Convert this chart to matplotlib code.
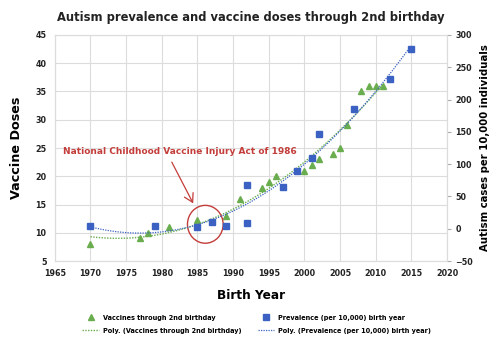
import numpy as np
import matplotlib
matplotlib.use("Agg")
import matplotlib.pyplot as plt
from matplotlib.patches import Ellipse

# Doses of vaccine received through 2nd birthday, by birth year
vacc_years = [1970, 1977, 1978, 1981, 1985, 1989, 1991, 1994, 1995, 1996,
              2000, 2001, 2002, 2004, 2005, 2006, 2008, 2009, 2010, 2011]
vacc_doses = [8, 9, 10, 11, 12.3, 13, 16, 18, 19, 20,
              21, 22, 23, 24, 25, 29, 35, 36, 36, 36]

# Autism prevalence per 10,000 by birth year
prev_years = [1970, 1979, 1985, 1987, 1989, 1992, 1992, 1997, 1999, 2001,
              2002, 2007, 2012, 2015]
prev_rate = [4, 4, 3, 11, 5, 9, 68, 65, 90, 110,
             146, 185, 232, 278]

x_ticks = list(range(1965, 2021, 5))
left_ticks = list(range(5, 46, 5))
right_ticks = list(range(-50, 301, 50))

GREEN = "#6aad4e"
BLUE = "#3b62c2"
RED = "#c33d3a"
GRID = "#dcdcdc"

plt.rcParams["font.family"] = ["DejaVu Sans"]

fig = plt.figure(figsize=(4.94, 3.43), dpi=100)
ax = fig.add_axes([0.111, 0.239, 0.794, 0.659])
ax2 = ax.twinx()

ax.set_xlim(1965, 2020)
ax.set_ylim(5, 45)
ax2.set_ylim(-50, 300)
ax.set_xticks(x_ticks)
ax.set_yticks(left_ticks)
ax2.set_yticks(right_ticks)
ax.grid(True, color=GRID, linewidth=0.8)
ax.set_axisbelow(True)

for a in (ax, ax2):
    for s in a.spines.values():
        s.set_color(GRID)
        s.set_linewidth(0.8)
    a.tick_params(labelsize=5.8, colors="#222222", length=0, pad=6)
    for lab in a.get_xticklabels() + a.get_yticklabels():
        lab.set_fontweight("bold")
ax2.tick_params(axis="y", length=3, color="#aaaaaa", pad=3)
for lab in ax2.get_yticklabels():
    lab.set_fontweight("bold")

# second-order polynomial trendlines
vx = np.array(vacc_years, dtype=float)
px = np.array(prev_years, dtype=float)
vfit = np.poly1d(np.polyfit(vx, vacc_doses, 2))
pfit = np.poly1d(np.polyfit(px, prev_rate, 2))
vxs = np.linspace(vx.min(), vx.max(), 200)
pxs = np.linspace(px.min(), px.max(), 200)

l_vfit, = ax.plot(vxs, vfit(vxs), color=GREEN, linestyle=(0, (1, 1)),
                  linewidth=1.0, label="Poly. (Vaccines through 2nd birthday)")
l_pfit, = ax2.plot(pxs, pfit(pxs), color=BLUE, linestyle=(0, (1, 1)),
                   linewidth=0.9, label="Poly. (Prevalence (per 10,000) birth year)")
l_v, = ax.plot(vacc_years, vacc_doses, "^", color=GREEN, markersize=5,
               linestyle="none", label="Vaccines through 2nd birthday")
l_p, = ax2.plot(prev_years, prev_rate, "s", color=BLUE, markersize=4.6,
                linestyle="none", label="Prevalence (per 10,000) birth year")

ax.set_title("Autism prevalence and vaccine doses through 2nd birthday",
             fontsize=8.3, fontweight="bold", color="#222222", pad=10)
ax.set_ylabel("Vaccine Doses", fontsize=9.2, fontweight="bold", labelpad=9)
ax2.set_ylabel("Autism cases per 10,000 individuals", fontsize=7.3,
               fontweight="bold", labelpad=5)
ax.set_xlabel("Birth Year", fontsize=8.7, fontweight="bold", labelpad=8)

# 1986 act callout
ax.text(1966.1, 24.3, "National Childhood Vaccine Injury Act of 1986",
        color=RED, fontsize=6.5, fontweight="bold", va="center", ha="left",
        zorder=6)
ax.annotate("", xy=(1984.4, 15.2), xytext=(1981.4, 22.5),
            arrowprops=dict(arrowstyle="->,head_length=0.6,head_width=0.35",
                            color=RED, linewidth=0.9, shrinkA=0, shrinkB=0),
            zorder=6)
ax.add_patch(Ellipse((1986.1, 11.5), 5.0, 6.7, fill=False,
                     edgecolor=RED, linewidth=1.0, zorder=6))

fig.legend(handles=[l_v, l_vfit, l_p, l_pfit], ncol=2, loc="lower center",
           bbox_to_anchor=(0.52, 0.01), frameon=False,
           handlelength=2.6, handletextpad=0.6, columnspacing=2.4,
           labelspacing=1.1, prop={"weight": "bold", "size": 4.7})

fig.savefig("out.png", dpi=100)
